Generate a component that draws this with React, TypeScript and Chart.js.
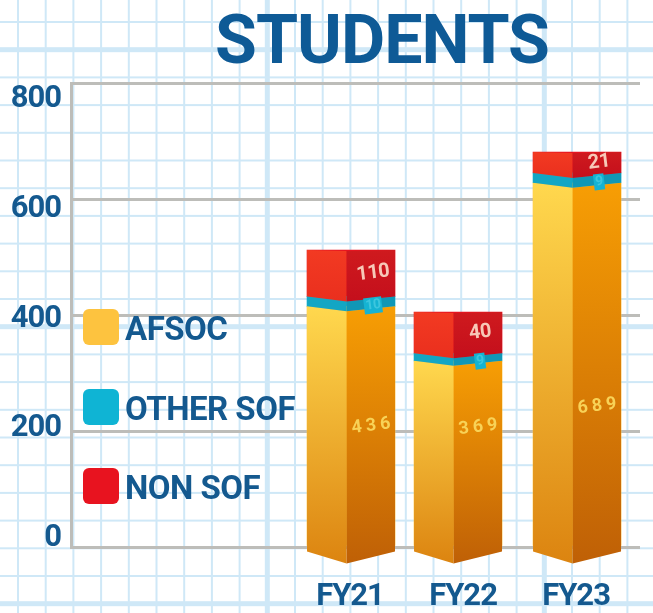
import React, { useEffect, useRef } from "react";
import { Chart, registerables } from "chart.js";

Chart.register(...registerables);

// ---- data ----
const fiscalYears = [21, 22, 23];
const seriesNames = ["AFSOC", "OTHER SOF", "NON SOF"];
const afsocHeights = [415, 321, 628];
const otherSofHeights = [17, 13, 17];
const nonSofHeights = [80, 71, 36];
const afsocPrinted = ["436", "369", "689"];
const otherSofPrinted = ["10", "9", "9"];
const nonSofPrinted = ["110", "40", "21"];
const yTicks = [0, 200, 400, 600, 800];

// ---- styles ----
const FONT = 'Roboto, "Liberation Sans", sans-serif';
const BLUE = "#14598f";
const PAPER_LINE = "#cfe8f7";
const GRID_GREY = "#bdbdb9";
const legendColors = ["#fdc33f", "#0fb4d4", "#e8131f"];
const barNudge = [1, -5, 1];
const afsocLabelShift = [0, -26, 42];

const paperPlugin = {
  id: "paper",
  beforeDraw(chart: any) {
    const { ctx, width, height } = chart;
    ctx.save();
    ctx.fillStyle = "#ffffff";
    ctx.fillRect(0, 0, width, height);
    ctx.fillStyle = PAPER_LINE;
    for (let n = -1; n < 25; n++) {
      const x = 18 + n * 27.7;
      const thick = n === 9 || n === 19;
      ctx.fillRect(x - (thick ? 2.5 : 1), 0, thick ? 5 : 2, height);
      const y = 22 + n * 27.7;
      const thickH = n === 1 || n === 11 || n === 21;
      ctx.fillRect(0, y - (thickH ? 2.5 : 1), width, thickH ? 5 : 2);
    }
    ctx.restore();
    ctx.letterSpacing = "-1px";
  },
};

const titleShiftPlugin = {
  id: "titleShift",
  afterLayout(chart: any) {
    if (chart.titleBlock) {
      chart.titleBlock.left += 62;
      chart.titleBlock.right += 62;
    }
  },
};

const nudgePlugin = {
  id: "nudge",
  afterDatasetsUpdate(chart: any) {
    chart.data.datasets.forEach((_: any, d: number) => {
      chart.getDatasetMeta(d).data.forEach((el: any, i: number) => {
        el.x += barNudge[i];
      });
    });
  },
};

function facePath(ctx: any, pts: number[][]) {
  ctx.beginPath();
  pts.forEach((p, i) => (i ? ctx.lineTo(p[0], p[1]) : ctx.moveTo(p[0], p[1])));
  ctx.closePath();
}

function vGrad(ctx: any, y0: number, y1: number, c0: string, c1: string) {
  const g = ctx.createLinearGradient(0, y0, 0, y1);
  g.addColorStop(0, c0);
  g.addColorStop(1, c1);
  return g;
}

const faces = [
  { l0: "#ffd84e", l1: "#dc8410", r0: "#f79e04", r1: "#bf6006" },
  { l0: "#13a6c4", l1: "#13a6c4", r0: "#1097b6", r1: "#1097b6" },
  { l0: "#f23a22", l1: "#ea2f1e", r0: "#cf1a1e", r1: "#c40f1c" },
];

const prismPlugin = {
  id: "prism",
  afterDatasetsDraw(chart: any) {
    const { ctx } = chart;
    ctx.save();
    fiscalYears.forEach((_, i) => {
      faces.forEach((f, d) => {
        const el = chart.getDatasetMeta(d).data[i];
        const left = el.x - el.width / 2;
        const right = el.x + el.width / 2;
        const front = left + el.width * 0.45;
        const top = el.y;
        const bottom = el.base;
        const topDrop = d === 2 ? 1 : 5;
        const botSide = d === 0 ? 6 : 0;
        const botDrop = d === 0 ? 18 : 5;
        ctx.fillStyle = vGrad(ctx, top, bottom + botDrop, f.l0, f.l1);
        facePath(ctx, [
          [left, top], [front, top + topDrop], [front, bottom + botDrop], [left, bottom + botSide],
        ]);
        ctx.fill();
        ctx.fillStyle = vGrad(ctx, top, bottom + botDrop, f.r0, f.r1);
        facePath(ctx, [
          [front, top + topDrop], [right, top], [right, bottom + botSide], [front, bottom + botDrop],
        ]);
        ctx.fill();
      });
    });

    const printed = [afsocPrinted, otherSofPrinted, nonSofPrinted];
    const colors = ["#f8d257", "#3cc6de", "#f7c8b8"];
    ctx.textAlign = "center";
    ctx.textBaseline = "middle";
    fiscalYears.forEach((_, i) => {
      printed.forEach((list, d) => {
        const el = chart.getDatasetMeta(d).data[i];
        const cx = el.x + 22;
        const mid = (el.y + el.base) / 2;
        const cy = d === 0 ? mid + afsocLabelShift[i] : d === 1 ? mid + 4 : mid;
        ctx.save();
        ctx.translate(cx, cy);
        ctx.rotate((-7 * Math.PI) / 180);
        ctx.font = `bold ${d === 0 ? 18 : 20}px ${FONT}`;
        ctx.letterSpacing = d === 0 ? "4px" : "-0.5px";
        if (d === 1) {
          ctx.font = `bold 14px ${FONT}`;
          const w = ctx.measureText(list[i]).width + 3;
          ctx.fillStyle = "#15b3d2";
          ctx.fillRect(-w / 2, -8, w, 16);
        }
        ctx.fillStyle = colors[d];
        ctx.fillText(list[i], 0, 0);
        ctx.restore();
      });
    });
    ctx.restore();
  },
};

const legendPlugin = {
  id: "sideLegend",
  afterDraw(chart: any) {
    const { ctx } = chart;
    const centers = [327, 407, 486];
    ctx.save();
    chart.data.datasets.forEach((ds: any, d: number) => {
      ctx.fillStyle = legendColors[d];
      ctx.beginPath();
      ctx.roundRect(83, centers[d] - 18, 36, 36, 6);
      ctx.fill();
      ctx.fillStyle = BLUE;
      ctx.font = `bold 33px ${FONT}`;
      ctx.letterSpacing = "-0.5px";
      ctx.textAlign = "left";
      ctx.textBaseline = "middle";
      ctx.fillText(ds.label, 125, centers[d] + 5);
    });
    ctx.restore();
  },
};

export default function App() {
  const ref = useRef<HTMLCanvasElement | null>(null);
  useEffect(() => {
    document.body.style.margin = "0";
    const toPoints = (vals: number[]) => vals.map((y, i) => ({ x: fiscalYears[i], y }));
    const chart = new Chart(ref.current as HTMLCanvasElement, {
      type: "bar",
      data: {
        datasets: [
          { label: seriesNames[0], data: toPoints(afsocHeights), backgroundColor: legendColors[0], barThickness: 88 },
          { label: seriesNames[1], data: toPoints(otherSofHeights), backgroundColor: legendColors[1], barThickness: 88 },
          { label: seriesNames[2], data: toPoints(nonSofHeights), backgroundColor: legendColors[2], barThickness: 88 },
        ],
      } as any,
      options: {
        responsive: false,
        animation: false,
        layout: { autoPadding: false, padding: { left: 0, right: 13, top: 0, bottom: 0 } },
        plugins: {
          legend: { display: false },
          tooltip: { enabled: false },
          title: {
            display: true,
            text: "STUDENTS",
            color: "#0e5a96",
            font: { family: FONT, size: 68, weight: "bold", lineHeight: 1 },
            padding: { top: 12, bottom: 3 },
          },
        },
        scales: {
          x: {
            type: "linear",
            stacked: true,
            offset: false,
            min: 18.531,
            max: 23.566,
            grid: { display: false },
            border: { display: false },
            afterBuildTicks: (s: any) => {
              s.ticks = fiscalYears.map((value) => ({ value }));
            },
            afterFit: (s: any) => {
              s.height = 66;
            },
            ticks: {
              autoSkip: false,
              maxRotation: 0,
              color: BLUE,
              padding: 24,
              font: { family: FONT, size: 31, weight: "bold" },
              callback: (v: any) => `FY${v}`,
            },
          },
          y: {
            stacked: true,
            position: "left",
            weight: 1,
            min: 0,
            max: 800,
            afterBuildTicks: (s: any) => {
              s.ticks = yTicks.map((value) => ({ value }));
            },
            afterFit: (s: any) => {
              s.width = 2;
            },
            ticks: { display: false },
            grid: { color: GRID_GREY, lineWidth: 3, drawTicks: false },
            border: { display: true, color: GRID_GREY, width: 3 },
          },
          y2: {
            type: "linear",
            position: "left",
            weight: 2,
            min: -16,
            max: 830,
            grid: { display: false },
            border: { display: false },
            afterBuildTicks: (s: any) => {
              s.ticks = yTicks.map((value) => ({ value }));
            },
            afterFit: (s: any) => {
              s.width = 69;
            },
            ticks: {
              color: BLUE,
              padding: 0,
              font: { family: FONT, size: 31, weight: "bold" },
            },
          },
        },
      } as any,
      plugins: [paperPlugin, titleShiftPlugin, nudgePlugin, prismPlugin, legendPlugin],
    });
    return () => chart.destroy();
  }, []);
  return (
    <div style={{ width: 653, height: 613 }}>
      <canvas ref={ref} width={653} height={613} style={{ display: "block", filter: "blur(0.5px)" }} />
    </div>
  );
}
